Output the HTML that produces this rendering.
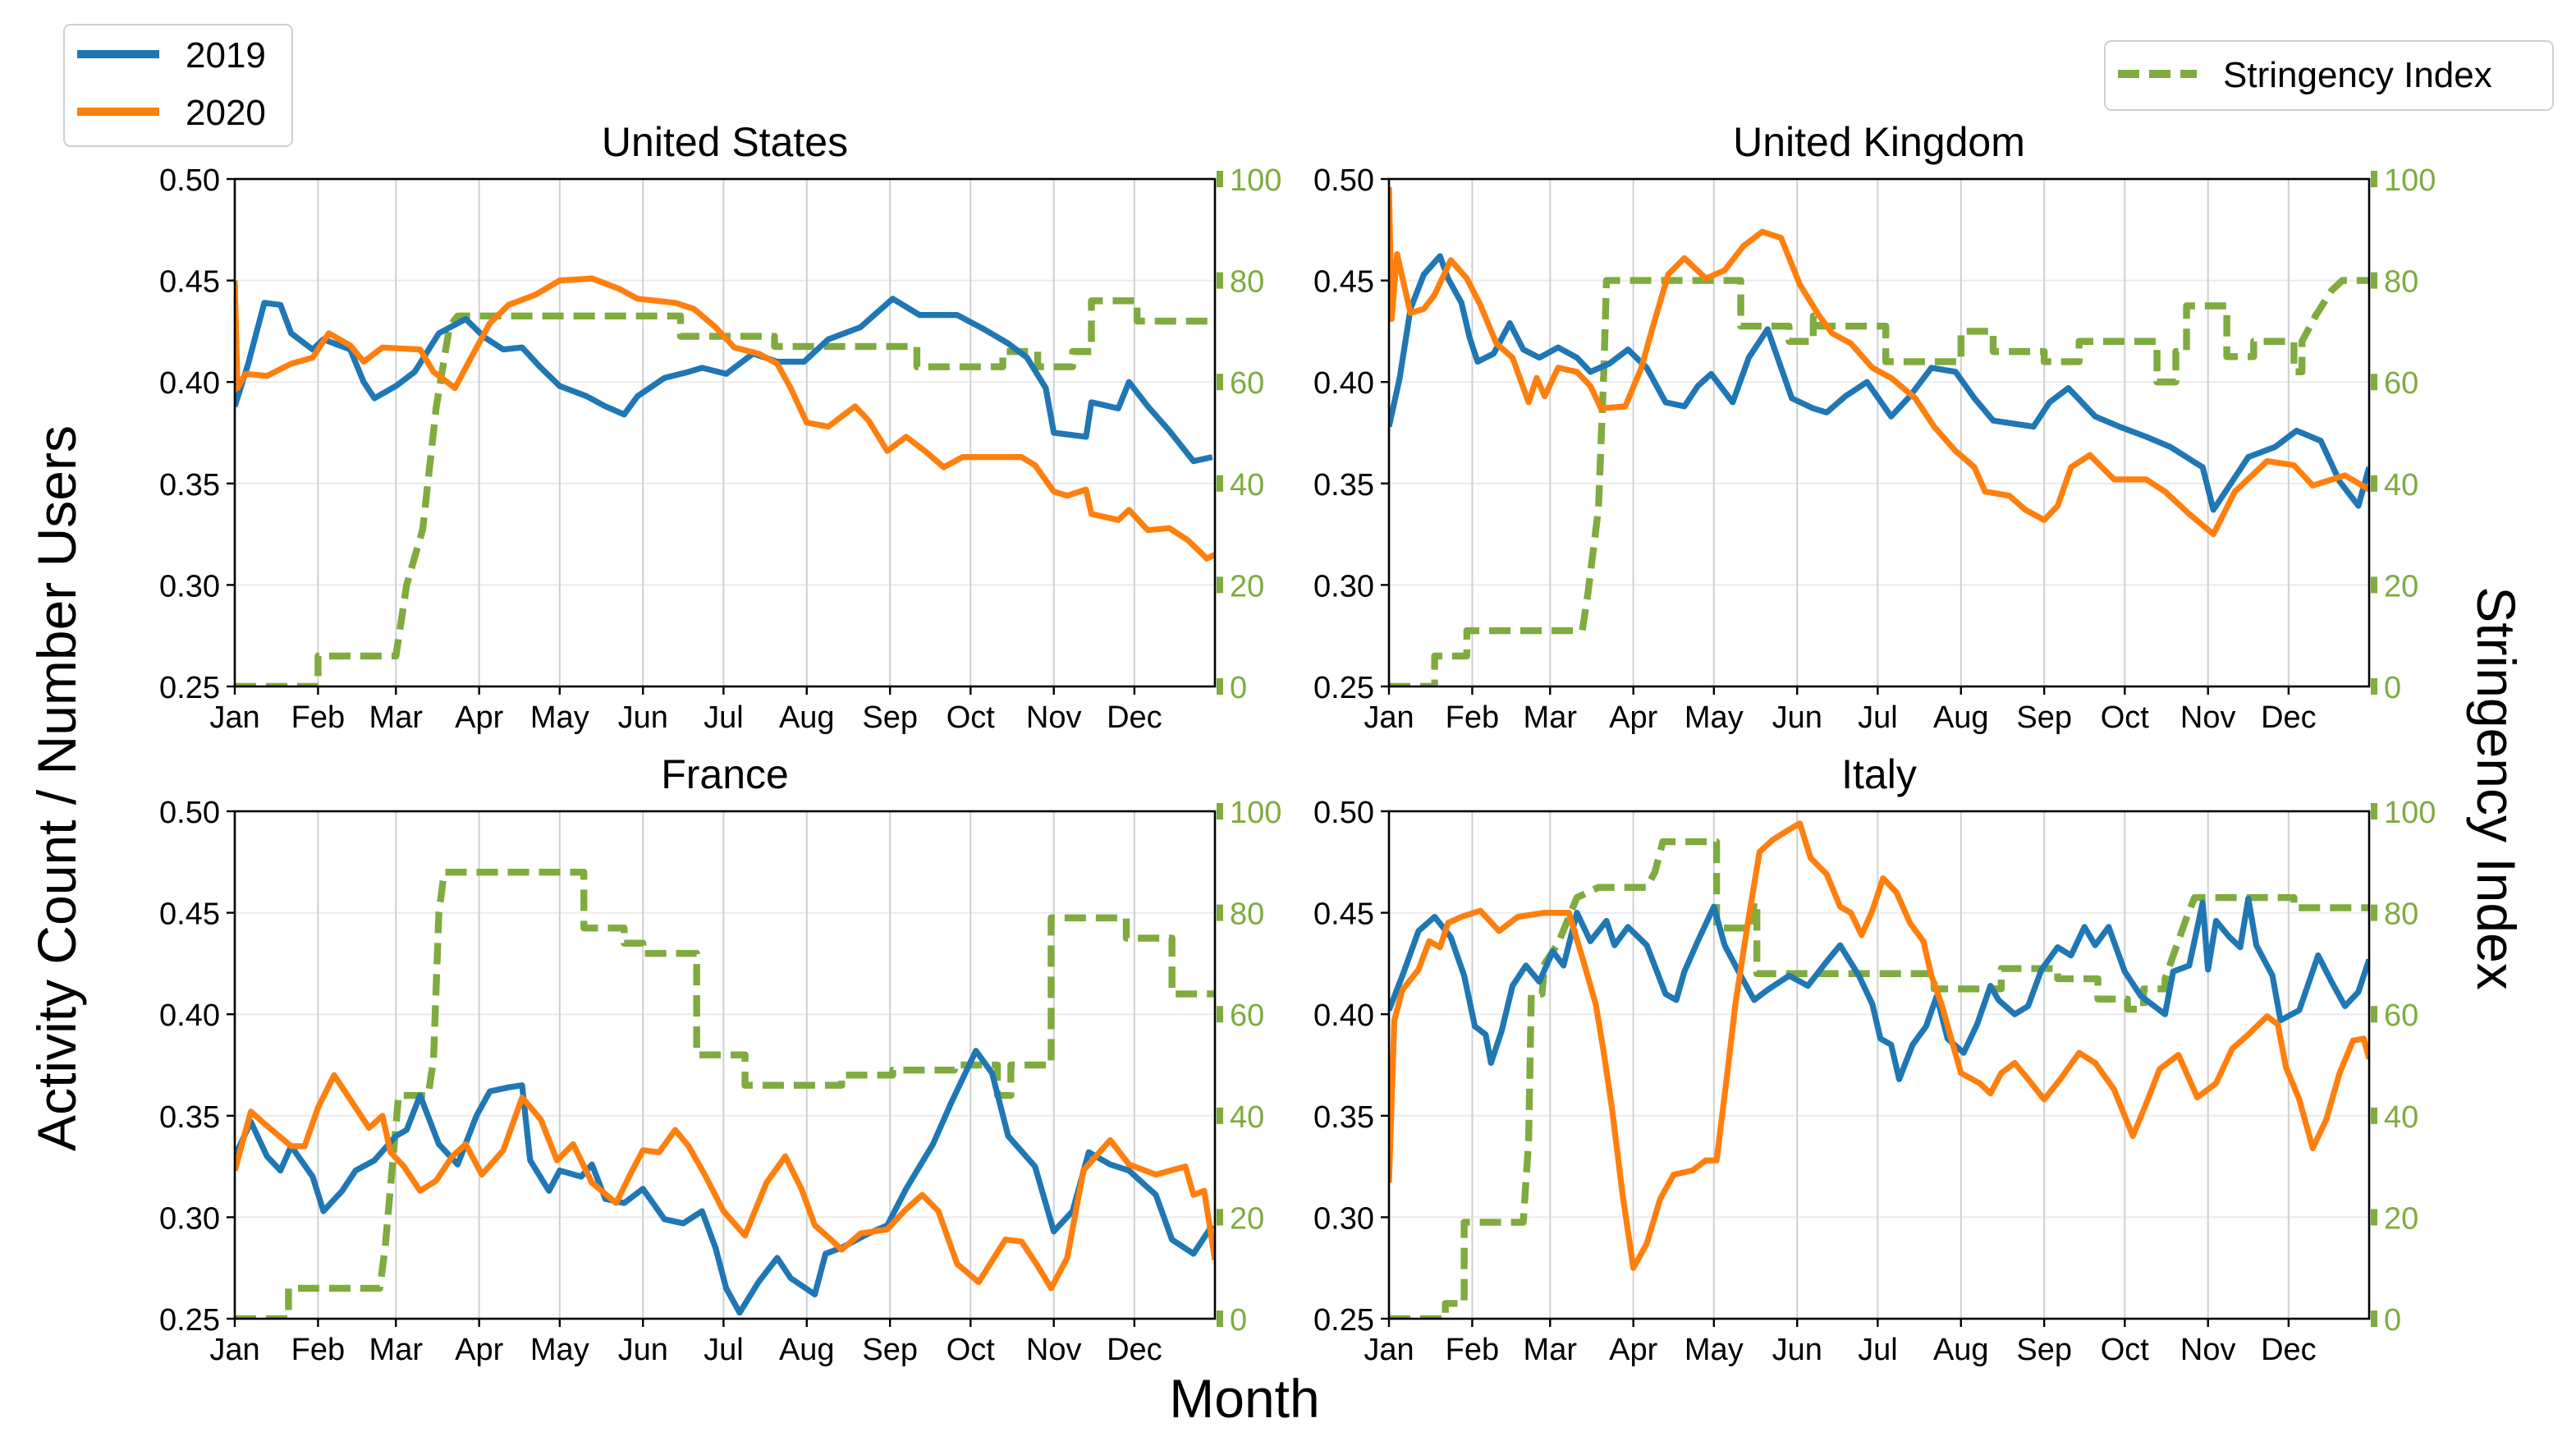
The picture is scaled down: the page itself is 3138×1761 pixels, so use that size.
<!DOCTYPE html>
<html><head><meta charset="utf-8"><style>
html,body{margin:0;padding:0;background:#fff;}
svg{display:block;font-family:"Liberation Sans","DejaVu Sans",sans-serif;}
</style></head><body>
<svg id="fig" width="3138" height="1761" viewBox="0 0 1569 880.5" xmlns="http://www.w3.org/2000/svg">
<rect x="0" y="0" width="1569" height="880.5" fill="#fff"/>
<text x="0" y="0" transform="translate(46,480) rotate(-90)" font-size="33" text-anchor="middle">Activity Count / Number Users</text>
<text x="0" y="0" transform="translate(1509,480) rotate(90)" font-size="33" text-anchor="middle">Stringency Index</text>
<text x="758" y="863" font-size="33" text-anchor="middle">Month</text>
<g>
<rect x="39" y="15" width="139" height="74" rx="4" fill="#fff" stroke="#d0d0d0" stroke-width="1"/>
<line x1="47" y1="33" x2="97" y2="33" stroke="#1f77b4" stroke-width="5"/>
<text x="113" y="41" font-size="22">2019</text>
<line x1="47" y1="68" x2="97" y2="68" stroke="#ff7f0e" stroke-width="5"/>
<text x="113" y="76" font-size="22">2020</text>
</g>
<g>
<rect x="1282" y="25" width="273" height="42" rx="4" fill="#fff" stroke="#d0d0d0" stroke-width="1"/>
<line x1="1290" y1="45" x2="1338" y2="45" stroke="#7fab3f" stroke-width="5" stroke-dasharray="13,6"/>
<text x="1354" y="53" font-size="22">Stringency Index</text>
</g>
</svg>
<script>
const monthLabels = ["Jan","Feb","Mar","Apr","May","Jun","Jul","Aug","Sep","Oct","Nov","Dec"];
const monthStarts = [0,31,60,91,121,152,182,213,244,274,305,335];
const yTicks = [0.25,0.30,0.35,0.40,0.45,0.50];
const sTicks = [0,20,40,60,80,100];

const usDays19 = [0,5,11,17,21,29,33,43,48,52,60,67,76,86,93,100,107,114,121,131,138,145,150,160,169,174,183,193,202,212,221,233,245,255,269,279,288,295,302,305,317,319,329,333,340,348,357,364];
const usVals19 = [0.388,0.409,0.439,0.438,0.424,0.416,0.421,0.416,0.400,0.392,0.398,0.405,0.424,0.431,0.422,0.416,0.417,0.407,0.398,0.393,0.388,0.384,0.393,0.402,0.405,0.407,0.404,0.414,0.410,0.410,0.421,0.427,0.441,0.433,0.433,0.426,0.419,0.412,0.397,0.375,0.373,0.390,0.387,0.400,0.388,0.376,0.361,0.363];
const usDays20 = [0,1,4,12,21,29,35,43,48,55,69,74,82,88,95,102,112,121,133,143,150,164,171,179,186,195,202,207,213,221,231,236,243,250,257,264,271,293,298,305,310,317,319,329,333,340,348,355,362,365];
const usVals20 = [0.45,0.397,0.404,0.403,0.409,0.412,0.424,0.418,0.410,0.417,0.416,0.405,0.397,0.412,0.429,0.438,0.443,0.450,0.451,0.446,0.441,0.439,0.436,0.427,0.417,0.414,0.409,0.397,0.380,0.378,0.388,0.381,0.366,0.373,0.366,0.358,0.363,0.363,0.359,0.346,0.344,0.347,0.335,0.332,0.337,0.327,0.328,0.322,0.313,0.315];
const usSDays = [0,31,31,60,64,70,75,80,83,166,166,201,201,254,254,286,286,299,299,312,312,319,319,336,336,365];
const usSVals = [0,0,6,6,20,31,55,71,73,73,69,69,67,67,63,63,66,66,63,63,66,66,76,76,72,72];

const ukDays19 = [0,4,8,13,19,22,27,30,33,39,45,50,56,63,70,75,82,89,96,103,110,115,120,128,134,141,150,158,163,170,178,187,194,202,211,218,225,240,246,253,263,272,282,291,303,307,313,320,330,338,347,354,361,365];
const ukVals19 = [0.378,0.402,0.436,0.453,0.462,0.451,0.439,0.422,0.410,0.414,0.429,0.416,0.412,0.417,0.412,0.405,0.409,0.416,0.407,0.390,0.388,0.398,0.404,0.390,0.412,0.426,0.392,0.387,0.385,0.393,0.400,0.383,0.393,0.407,0.405,0.392,0.381,0.378,0.390,0.397,0.383,0.378,0.373,0.368,0.358,0.337,0.349,0.363,0.368,0.376,0.371,0.351,0.339,0.358];
const ukDays20 = [0,1,3,8,13,17,23,29,34,40,46,52,55,58,63,70,75,79,88,94,98,104,110,118,125,132,139,146,153,160,165,172,180,187,196,203,211,218,222,231,237,244,249,254,261,270,282,289,298,307,315,327,337,344,356,365];
const ukVals20 = [0.496,0.431,0.463,0.434,0.436,0.443,0.460,0.451,0.438,0.419,0.412,0.390,0.402,0.393,0.407,0.405,0.398,0.387,0.388,0.407,0.426,0.453,0.461,0.451,0.455,0.467,0.474,0.471,0.448,0.433,0.424,0.419,0.407,0.402,0.392,0.378,0.366,0.358,0.346,0.344,0.337,0.332,0.339,0.358,0.364,0.352,0.352,0.346,0.335,0.325,0.346,0.361,0.359,0.349,0.354,0.347];
const ukSDays = [0,17,17,29,29,72,74,78,80,81,131,131,149,149,158,158,160,160,185,185,213,213,225,225,244,244,257,257,286,286,293,293,297,297,312,312,322,322,337,337,340,340,345,351,355,365];
const ukSVals = [0,0,6,6,11,11,18,35,62,80,80,71,71,68,68,73,73,71,71,64,64,70,70,66,66,64,64,68,68,60,60,66,66,75,75,65,65,68,68,62,62,68,73,78,80,80];

const frDays19 = [0,6,12,17,21,29,33,40,45,52,60,64,69,76,83,90,95,102,107,110,117,121,129,133,138,145,152,160,167,174,179,183,188,195,202,207,216,220,226,236,243,250,260,267,276,282,288,298,305,312,318,326,333,343,349,357,364];
const frVals19 = [0.330,0.347,0.330,0.323,0.335,0.320,0.303,0.313,0.323,0.328,0.340,0.343,0.360,0.336,0.326,0.350,0.362,0.364,0.365,0.328,0.313,0.323,0.320,0.326,0.309,0.307,0.314,0.299,0.297,0.303,0.285,0.265,0.253,0.268,0.280,0.270,0.262,0.282,0.285,0.292,0.296,0.314,0.336,0.357,0.382,0.371,0.340,0.325,0.293,0.303,0.332,0.326,0.323,0.311,0.289,0.282,0.296];
const frDays20 = [0,6,12,21,26,31,37,44,50,55,58,63,69,75,81,86,92,100,107,114,120,126,133,142,148,152,158,164,169,175,182,190,198,205,211,216,222,226,233,243,250,256,262,269,277,287,293,299,304,310,316,322,326,333,343,354,357,361,365];
const frVals20 = [0.323,0.352,0.345,0.335,0.335,0.354,0.370,0.356,0.344,0.350,0.332,0.325,0.313,0.318,0.330,0.336,0.321,0.333,0.359,0.348,0.328,0.336,0.317,0.307,0.323,0.333,0.332,0.343,0.335,0.321,0.303,0.291,0.317,0.330,0.314,0.296,0.289,0.284,0.292,0.294,0.304,0.311,0.303,0.277,0.268,0.289,0.288,0.276,0.265,0.280,0.323,0.332,0.338,0.326,0.321,0.325,0.311,0.313,0.279];
const frSDays = [0,20,20,54,56,61,72,74,76,78,130,130,145,145,152,152,172,172,190,190,226,226,245,245,268,268,284,284,289,289,304,304,332,332,349,349,365];
const frSVals = [0,0,6,6,14,44,44,51,80,88,88,77,77,74,74,72,72,52,52,46,46,48,48,49,49,50,50,44,44,50,50,79,79,75,75,64,64];

const itDays19 = [0,5,11,17,23,28,32,36,38,42,46,51,56,61,65,70,75,81,84,89,96,103,107,110,115,121,125,131,136,141,149,156,163,168,175,180,183,187,190,195,200,204,208,214,219,224,227,233,238,243,249,254,259,263,268,274,280,289,292,298,303,305,308,313,317,320,323,329,332,339,346,351,356,361,365];
const itVals19 = [0.402,0.419,0.441,0.448,0.438,0.419,0.394,0.390,0.376,0.392,0.414,0.424,0.416,0.431,0.424,0.450,0.436,0.446,0.434,0.443,0.434,0.410,0.407,0.421,0.436,0.453,0.434,0.419,0.407,0.412,0.419,0.414,0.426,0.434,0.419,0.405,0.388,0.385,0.368,0.385,0.394,0.409,0.388,0.381,0.395,0.414,0.407,0.400,0.404,0.422,0.433,0.429,0.443,0.434,0.443,0.421,0.409,0.400,0.421,0.424,0.455,0.422,0.446,0.438,0.433,0.457,0.434,0.419,0.397,0.402,0.429,0.416,0.404,0.411,0.427];
const itDays20 = [0,2,5,11,15,19,22,27,34,41,48,58,67,72,77,80,83,87,91,96,101,106,113,118,122,126,129,134,138,143,149,153,157,163,168,172,176,180,184,189,194,199,202,206,210,213,220,224,228,233,238,244,250,257,263,270,277,282,287,294,301,308,314,320,327,331,334,339,344,349,354,359,363,365];
const itVals20 = [0.317,0.397,0.412,0.422,0.436,0.433,0.445,0.448,0.451,0.441,0.448,0.450,0.450,0.428,0.405,0.381,0.354,0.311,0.275,0.287,0.309,0.321,0.323,0.328,0.328,0.371,0.405,0.448,0.480,0.486,0.491,0.494,0.477,0.469,0.453,0.450,0.439,0.451,0.467,0.460,0.445,0.436,0.419,0.404,0.385,0.371,0.366,0.361,0.371,0.376,0.368,0.358,0.368,0.381,0.376,0.363,0.340,0.356,0.373,0.380,0.359,0.366,0.383,0.390,0.399,0.395,0.374,0.358,0.334,0.348,0.371,0.387,0.388,0.378];
const itSDays = [0,21,21,28,28,50,52,53,57,58,63,70,78,96,99,102,122,122,135,136,137,137,203,203,228,228,249,249,264,264,275,275,281,281,289,289,297,300,337,337,365];
const itSVals = [0,0,3,3,19,19,35,64,64,70,74,83,85,85,88,94,94,77,77,82,82,68,68,65,65,69,69,67,67,63,63,61,61,65,65,67,79,83,83,81,81];

const NS = "http://www.w3.org/2000/svg";
const fig = document.getElementById("fig");
function mk(tag, attrs, parent){
  const e = document.createElementNS(NS, tag);
  for (const k in attrs) e.setAttribute(k, attrs[k]);
  (parent||fig).appendChild(e);
  return e;
}
const panels = [
  {key:"united-states", title:"United States", x0:143, y0:109, d19:usDays19, v19:usVals19, d20:usDays20, v20:usVals20, sd:usSDays, sv:usSVals},
  {key:"united-kingdom", title:"United Kingdom", x0:846, y0:109, d19:ukDays19, v19:ukVals19, d20:ukDays20, v20:ukVals20, sd:ukSDays, sv:ukSVals},
  {key:"france", title:"France", x0:143, y0:494, d19:frDays19, v19:frVals19, d20:frDays20, v20:frVals20, sd:frSDays, sv:frSVals},
  {key:"italy", title:"Italy", x0:846, y0:494, d19:itDays19, v19:itVals19, d20:itDays20, v20:itVals20, sd:itSDays, sv:itSVals}
];
const W = 597, H = 309;
panels.forEach(p => {
  const g = mk("g", {});
  
  
  const xs = d => p.x0 + d / 365 * W;
  const ys = v => p.y0 + (0.5 - v) / 0.25 * H;
  const ss = s => p.y0 + (100 - s) / 100 * H;
  // grid
  yTicks.forEach(t => { mk("line", {x1:p.x0, x2:p.x0+W, y1:ys(t), y2:ys(t), stroke:"#ebebeb", "stroke-width":1}, g); });
  monthStarts.forEach(d => { mk("line", {x1:xs(d), x2:xs(d), y1:p.y0, y2:p.y0+H, stroke:"#d0d0d0", "stroke-width":1}, g); });
  // title
  const t = mk("text", {x:p.x0+W/2, y:p.y0-14, "font-size":25, "text-anchor":"middle"}, g);
  t.textContent = p.title;
  
  
  // left ticks
  yTicks.forEach(v => {
    mk("line", {x1:p.x0-5, x2:p.x0, y1:ys(v), y2:ys(v), stroke:"#000", "stroke-width":1.2}, g);
    const tl = mk("text", {x:p.x0-9, y:ys(v)+7, "font-size":19, "text-anchor":"end"}, g);
    tl.textContent = v.toFixed(2);
    
    
  });
  // right ticks
  sTicks.forEach(s => {
    mk("rect", {x:p.x0+W+1, y:ss(s)-5, width:4, height:10, fill:"#7fab3f"}, g);
    const tl = mk("text", {x:p.x0+W+9, y:ss(s)+7, "font-size":19, fill:"#7fab3f"}, g);
    tl.textContent = String(s);
    
    
  });
  // month ticks
  monthStarts.forEach((d,i) => {
    mk("line", {x1:xs(d), x2:xs(d), y1:p.y0+H, y2:p.y0+H+5, stroke:"#000", "stroke-width":1.2}, g);
    const ml = mk("text", {x:xs(d), y:p.y0+H+25, "font-size":19, "text-anchor":"middle"}, g);
    ml.textContent = monthLabels[i];
    
    
  });
  const clip = "clip-" + p.key;
  const cp = mk("clipPath", {id:clip}, g);
  mk("rect", {x:p.x0, y:p.y0-3, width:W, height:H+3}, cp);
  function line(days, vals, fy, color, name, dash){
    const n = Math.min(days.length, vals.length);
    let d = "";
    for (let i=0;i<n;i++) d += (i?"L":"M") + xs(days[i]).toFixed(2) + "," + fy(vals[i]).toFixed(2);
    const attrs = {d:d, fill:"none", stroke:color, "stroke-width":dash?4.2:3.6, "stroke-linejoin":"round", "clip-path":"url(#"+clip+")"};
    if (dash) attrs["stroke-dasharray"] = "13,6";
    const e = mk("path", attrs, g);
    
    
  }
  line(p.sd, p.sv, ss, "#7fab3f", "stringency-line-" + p.key, true);
  line(p.d19, p.v19, ys, "#1f77b4", "line-2019-" + p.key, false);
  line(p.d20, p.v20, ys, "#ff7f0e", "line-2020-" + p.key, false);
  mk("rect", {x:p.x0, y:p.y0, width:W, height:H, fill:"none", stroke:"#000", "stroke-width":1.3}, g);
});
</script>
</body></html>
